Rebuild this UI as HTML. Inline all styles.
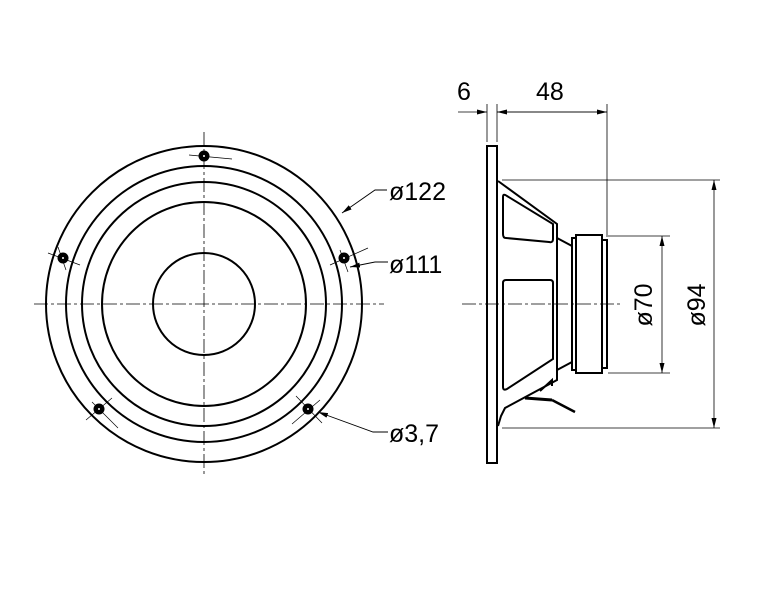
<!DOCTYPE html>
<html><head><style>body{margin:0;background:#fff}svg{display:block}</style></head><body>
<svg width="768" height="591" viewBox="0 0 768 591" xmlns="http://www.w3.org/2000/svg" font-family="Liberation Sans, sans-serif">
<defs><marker id="a" markerWidth="10" markerHeight="6" refX="10" refY="3" orient="auto" markerUnits="userSpaceOnUse"><path d="M0,0.5 L10,3 L0,5.5z" fill="#000"/></marker></defs>
<g stroke="#000" fill="none">
<g stroke-width="0.8" stroke-dasharray="14,3,3,3">
<line x1="34" y1="304" x2="384" y2="304"/><line x1="204" y1="132" x2="204" y2="476"/>
<line x1="462" y1="304" x2="620" y2="304"/>
</g>
<g stroke-width="2">
<circle cx="204" cy="304" r="158"/><circle cx="204" cy="304" r="138"/><circle cx="204" cy="304" r="122"/><circle cx="204" cy="304" r="102"/><circle cx="204" cy="304" r="51"/>
</g>
<g stroke-width="0.7">
<path d="M189,155 L232,159"/><path d="M48,253 L80,265 M58,247 L66,270"/><path d="M330,265 L368,248 M340,250 L348,272"/>
<path d="M86,420 L112,398 M92,402 L118,428"/><path d="M292,424 L320,400 M296,396 L322,423"/>
</g>
<g fill="#000" stroke="none"><circle cx="204" cy="156" r="5.5"/><circle cx="63" cy="258" r="5.5"/><circle cx="344" cy="258" r="5.5"/><circle cx="99" cy="409" r="5.5"/><circle cx="308" cy="409" r="5.5"/></g>
<g fill="#fff" stroke="none"><circle cx="204" cy="156" r="1"/><circle cx="63" cy="258" r="1"/><circle cx="344" cy="258" r="1"/><circle cx="99" cy="409" r="1"/><circle cx="308" cy="409" r="1"/></g>
<g stroke-width="0.9">
<path d="M387,190 L375,190 L342,213" marker-end="url(#a)"/>
<path d="M388,262 L375,262 L350,267" marker-end="url(#a)"/>
<path d="M388,432 L373,432 L318,412" marker-end="url(#a)"/>
</g>
<rect x="487" y="146" width="10" height="317" stroke-width="2"/>
<g stroke-width="2">
<path d="M498,181 L557,224 L557,380 L505,408 L501,416 L498,426"/>
<path d="M503,197 Q503,193 507,196 L553,224 L553,239 Q553,243 549,242 L506,238 Q503,238 503,234Z"/>
<path d="M506,280 L550,280 Q553,280 553,283 L553,359 L507,389 Q503,391 503,387 L503,283 Q503,280 506,280Z"/>
<path d="M557,238 L572,246 M557,370 L572,362"/>
<rect x="572" y="238" width="4" height="132"/><rect x="576" y="235" width="26" height="138"/><rect x="602" y="240" width="5" height="128"/>
<path d="M540,391 L552,380 L552,386"/>
<path d="M525,398 L552,400" stroke-width="3"/><path d="M552,400 L575,412" stroke-width="2.5"/>
</g>
<g stroke-width="0.8">
<line x1="487" y1="104" x2="487" y2="142"/><line x1="497" y1="104" x2="497" y2="142"/><line x1="607" y1="104" x2="607" y2="237"/>
<line x1="458" y1="112" x2="487" y2="112" marker-end="url(#a)"/>
<line x1="607" y1="112" x2="497" y2="112" marker-end="url(#a)"/>
<line x1="497" y1="112" x2="607" y2="112" marker-end="url(#a)"/>
<line x1="502" y1="180" x2="720" y2="180"/><line x1="502" y1="428" x2="720" y2="428"/>
<line x1="608" y1="236" x2="670" y2="236"/><line x1="608" y1="373" x2="670" y2="373"/>
<line x1="714" y1="304" x2="714" y2="180" marker-end="url(#a)"/><line x1="714" y1="304" x2="714" y2="428" marker-end="url(#a)"/>
<line x1="662" y1="304" x2="662" y2="236" marker-end="url(#a)"/><line x1="662" y1="304" x2="662" y2="373" marker-end="url(#a)"/>
</g>
</g>
<g font-size="25" fill="#000">
<text x="389" y="200">ø122</text><text x="389" y="273">ø111</text><text x="389" y="442">ø3,7</text>
<text x="457" y="100">6</text><text x="536" y="100">48</text>
<text transform="translate(652,305) rotate(-90)" text-anchor="middle">ø70</text>
<text transform="translate(705,305) rotate(-90)" text-anchor="middle">ø94</text>
</g>
</svg>
</body></html>
